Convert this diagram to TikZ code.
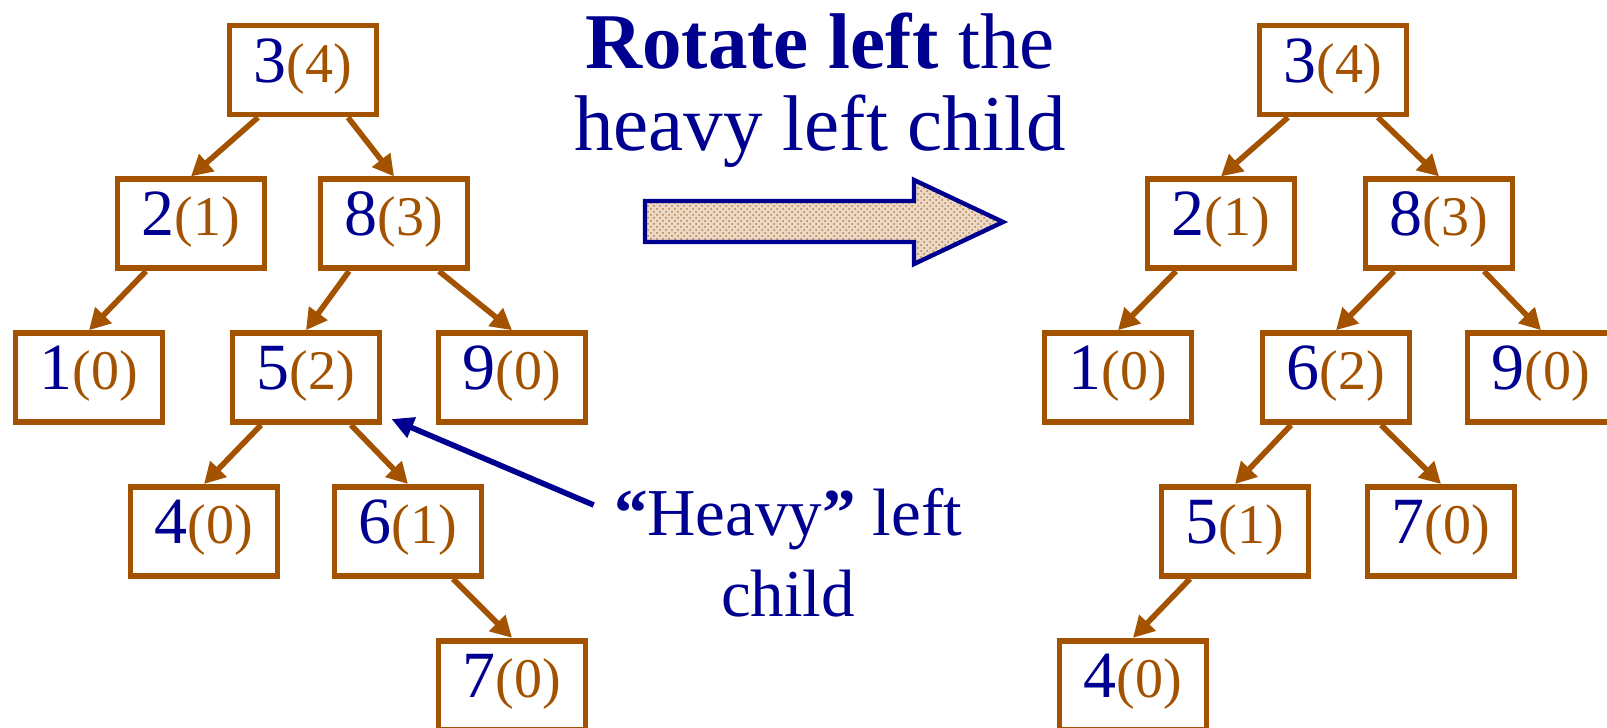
\documentclass[tikz,border=0pt]{standalone}
\usepackage{fontspec}
\setmainfont{Liberation Serif}
\usepackage{xcolor}
\usepackage{tikz}
\usetikzlibrary{
arrows.meta,
positioning,
patterns
}
\definecolor{navyblue}{HTML}{000090}
\definecolor{rustbrown}{HTML}{A35200}
\newcommand{\hnode}[2]{{\fontsize{33}{36}\selectfont\color{navyblue}#1}{\fontsize{28}{30}\selectfont\color{rustbrown}(#2)}}

\begin{document}
\begin{tikzpicture}[
x=0.5pt, y=-0.5pt,
node distance=29.5pt,
box/.style={
rectangle,
draw=rustbrown,
line width=2.9pt,
fill=white,
minimum width=73.5pt,
minimum height=44.5pt,
inner sep=0pt,
text height=22pt,
text depth=10pt
},
edge/.style={
rustbrown,
line width=2.8pt,
-{Triangle[length=10.5pt,width=11pt]}
},
pointer/.style={
navyblue,
line width=2.8pt,
-{Triangle[length=11pt,width=10.5pt]}
},
caption/.style={
text=navyblue,
align=center,
inner sep=0pt
}
]

\useasboundingbox (0,0) rectangle (1607,728);

% tree before the rotation
\node[box] (l3) at (303,70) {\hnode{3}{4}};
\node[box, below=of l3, xshift=-56pt] (l2) {\hnode{2}{1}};
\node[box, below=of l3, xshift=45.5pt] (l8) {\hnode{8}{3}};
\node[box, below=of l2, xshift=-51pt] (l1) {\hnode{1}{0}};
\node[box, below=of l8, xshift=-44pt] (l5) {\hnode{5}{2}};
\node[box, below=of l8, xshift=59pt] (l9) {\hnode{9}{0}};
\node[box, below=of l5, xshift=-51pt] (l4) {\hnode{4}{0}};
\node[box, below=of l5, xshift=51pt] (l6) {\hnode{6}{1}};
\node[box, below=of l6, xshift=52pt] (l7) {\hnode{7}{0}};

\draw[edge] ([xshift=-22.5pt]l3.south) -- (l2.north);
\draw[edge] ([xshift=22.5pt]l3.south) -- (l8.north);
\draw[edge] ([xshift=-22.5pt]l2.south) -- (l1.north);
\draw[edge] ([xshift=-22.5pt]l8.south) -- (l5.north);
\draw[edge] ([xshift=22.5pt]l8.south) -- (l9.north);
\draw[edge] ([xshift=-22.5pt]l5.south) -- (l4.north);
\draw[edge] ([xshift=22.5pt]l5.south) -- (l6.north);
\draw[edge] ([xshift=22.5pt]l6.south) -- (l7.north);

% tree after the rotation
\node[box] (r3) at (1333,70) {\hnode{3}{4}};
\node[box, below=of r3, xshift=-56pt] (r2) {\hnode{2}{1}};
\node[box, below=of r3, xshift=53pt] (r8) {\hnode{8}{3}};
\node[box, below=of r2, xshift=-51.5pt] (r1) {\hnode{1}{0}};
\node[box, below=of r8, xshift=-51.5pt] (r6) {\hnode{6}{2}};
\node[box, below=of r8, xshift=51pt] (r9) {\hnode{9}{0}};
\node[box, below=of r6, xshift=-50.5pt] (r5) {\hnode{5}{1}};
\node[box, below=of r6, xshift=52.5pt] (r7) {\hnode{7}{0}};
\node[box, below=of r5, xshift=-51pt] (r4) {\hnode{4}{0}};

\draw[edge] ([xshift=-22.5pt]r3.south) -- (r2.north);
\draw[edge] ([xshift=22.5pt]r3.south) -- (r8.north);
\draw[edge] ([xshift=-22.5pt]r2.south) -- (r1.north);
\draw[edge] ([xshift=-22.5pt]r8.south) -- (r6.north);
\draw[edge] ([xshift=22.5pt]r8.south) -- (r9.north);
\draw[edge] ([xshift=-22.5pt]r6.south) -- (r5.north);
\draw[edge] ([xshift=22.5pt]r6.south) -- (r7.north);
\draw[edge] ([xshift=-22.5pt]r5.south) -- (r4.north);

% captions
\node[caption, anchor=north, font=\fontsize{39.5}{41}\selectfont] (title) at (820,12)
{\textbf{Rotate left} the\\heavy left child};
\node[caption, anchor=north, font=\fontsize{33.5}{40.5}\selectfont] (heavy) at (788,488)
{\textbf{“}Heavy\textbf{”} left\\child};

\draw[pointer] ([shift={(-20,17)}]heavy.north west) -- ([shift={(9,-6)}]l5.south east);

% block arrow
\draw[navyblue, line width=2.2pt, preaction={fill=rustbrown!22},
pattern=crosshatch dots, pattern color=rustbrown!75]
(645,201) -- (914,201) -- (914,180) -- (1003,222) -- (914,264)
-- (914,242) -- (645,242) -- cycle;

\end{tikzpicture}
\end{document}
